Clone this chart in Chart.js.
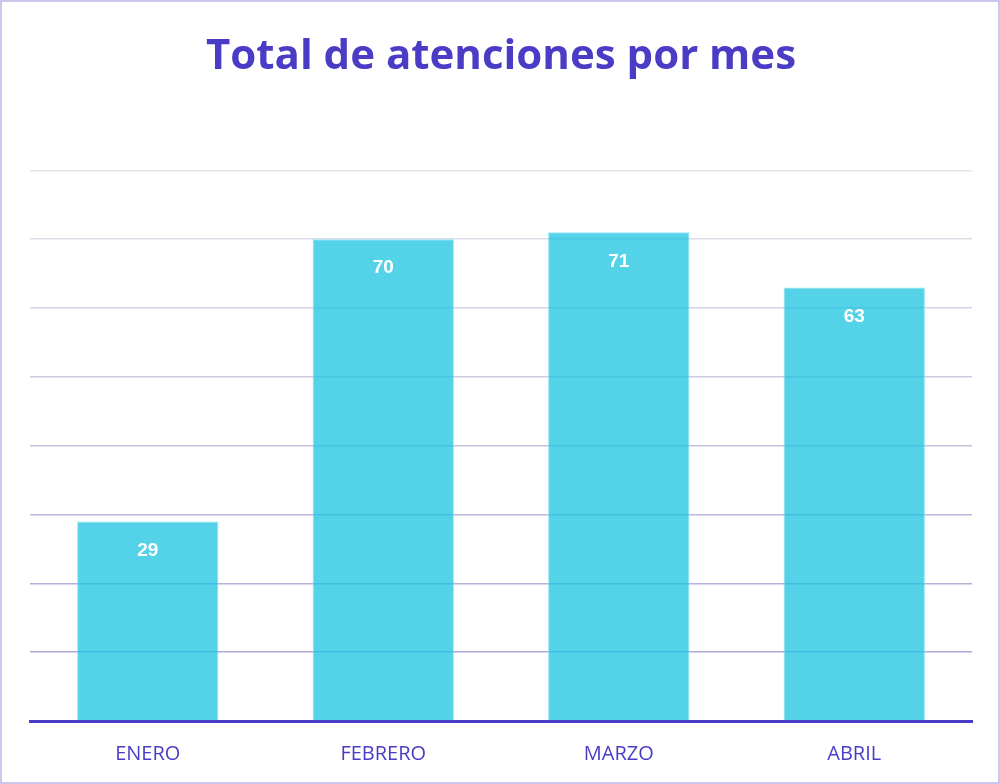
<!DOCTYPE html>
<html lang="es">
<head>
    <meta charset="UTF-8">
    <title>Total de atenciones por mes</title>
    <script src="https://cdn.jsdelivr.net/npm/chart.js"></script>
    <style>
        html, body { margin: 0; padding: 0; background: #fff; }
        .marco {
            width: 1000px; height: 784px; box-sizing: border-box;
            border: 2px solid #cbc8f0; position: relative;
        }
        #grafico { position: absolute; left: 0; top: 0; }
    </style>
</head>
<body>
    <div class="marco">
        <canvas id="grafico" width="996" height="780"></canvas>
    </div>

    <script>
        const meses = ['ENERO', 'FEBRERO', 'MARZO', 'ABRIL'];
        const atenciones = [29, 70, 71, 63];
        const ejeY = { min: 0, max: 80, paso: 10 };

        // etiquetas blancas dentro de cada barra
        const etiquetas = {
            id: 'etiquetas',
            afterDatasetsDraw(chart) {
                const ctx = chart.ctx;
                const meta = chart.getDatasetMeta(0);
                ctx.save();
                ctx.fillStyle = '#ffffff';
                ctx.font = 'bold 19px "Liberation Sans", Arial, sans-serif';
                ctx.textAlign = 'center';
                ctx.textBaseline = 'middle';
                meta.data.forEach((barra, i) => {
                    ctx.fillText(atenciones[i], barra.x, barra.y + 29);
                });
                ctx.restore();
            }
        };

        // arriba gris claro, abajo más morado
        function colorGrilla(c) {
            const t = 1 - c.index / 8;
            const r = Math.round(228 - 60 * t);
            const g = Math.round(228 - 70 * t);
            const b = Math.round(232 - 20 * t);
            return `rgb(${r}, ${g}, ${b})`;
        }

        const ctx = document.getElementById('grafico').getContext('2d');
        new Chart(ctx, {
            type: 'bar',
            data: {
                labels: meses,
                datasets: [{
                    data: atenciones,
                    backgroundColor: 'rgba(27, 195, 224, 0.75)',
                    borderColor: 'rgba(120, 220, 240, 0.8)',
                    borderWidth: 1,
                    barPercentage: 0.6,
                    categoryPercentage: 1
                }]
            },
            options: {
                responsive: false,
                animation: false,
                layout: { padding: { left: 28, right: 26, top: 0, bottom: 3 } },
                plugins: {
                    legend: { display: false },
                    tooltip: { enabled: false },
                    title: {
                        display: true,
                        text: 'Total de atenciones por mes',
                        color: '#4b3cc6',
                        font: { family: '"Open Sans", "Noto Sans", sans-serif', size: 42, weight: 'bold' },
                        padding: { top: 30, bottom: 88 }
                    }
                },
                scales: {
                    x: {
                        grid: { display: false },
                        border: { display: true, color: '#4b3cc6', width: 3 },
                        ticks: {
                            color: '#4b3cc6',
                            font: { family: '"Open Sans", "Noto Sans", sans-serif', size: 20 },
                            padding: 13
                        }
                    },
                    y: {
                        min: ejeY.min,
                        max: ejeY.max,
                        ticks: { stepSize: ejeY.paso, display: false },
                        border: { display: false },
                        grid: { color: colorGrilla, lineWidth: 1.5, drawTicks: false }
                    }
                }
            },
            plugins: [etiquetas]
        });
    </script>
</body>
</html>
